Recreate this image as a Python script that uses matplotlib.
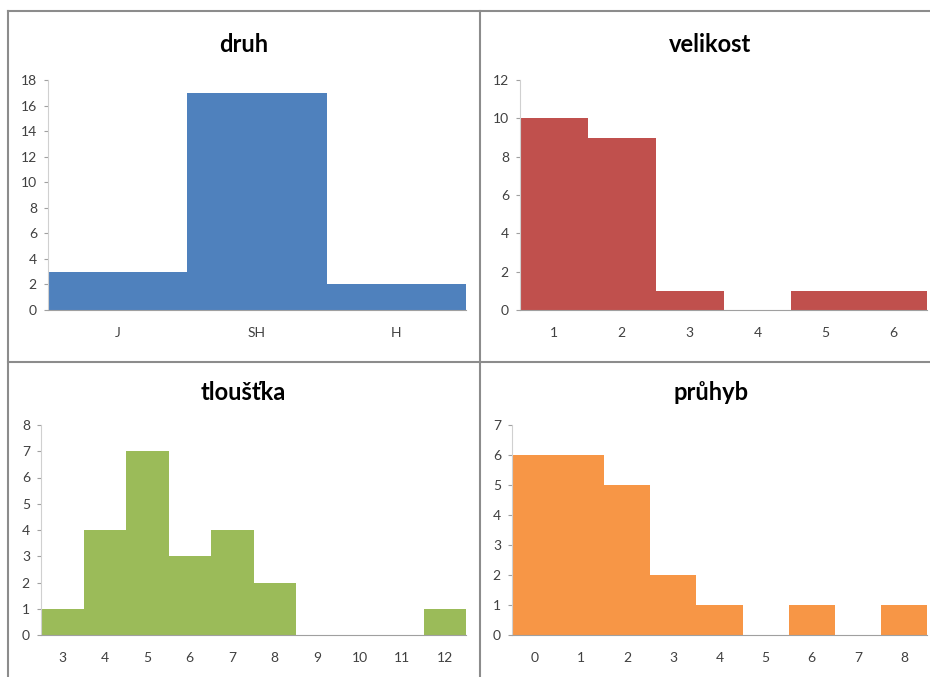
import matplotlib
matplotlib.use("Agg")
import matplotlib.pyplot as plt
from matplotlib.lines import Line2D

plt.rcParams['font.family'] = ['Lato', 'DejaVu Sans']

# data
druh_cats = ["J", "SH", "H"]
druh_vals = [3, 17, 2]

velikost_cats = [1, 2, 3, 4, 5, 6]
velikost_vals = [10, 9, 1, 0, 1, 1]

tloustka_cats = [3, 4, 5, 6, 7, 8, 9, 10, 11, 12]
tloustka_vals = [1, 4, 7, 3, 4, 2, 0, 0, 0, 1]

pruhyb_cats = [0, 1, 2, 3, 4, 5, 6, 7, 8]
pruhyb_vals = [6, 6, 5, 2, 1, 0, 1, 0, 1]

W, H = 930, 677
fig = plt.figure(figsize=(W / 100, H / 100), dpi=100)


def px_axes(x0, x1, y_top, y_bot):
    return fig.add_axes([x0 / W, 1 - y_bot / H, (x1 - x0) / W, (y_bot - y_top) / H])


def draw_hist(ax, cats, vals, color, ymax, ystep, title, title_xy):
    pos = list(range(len(cats)))
    ax.bar(pos, vals, width=1.0, color=color, linewidth=0)
    ax.set_xlim(-0.5, len(cats) - 0.5)
    ax.set_ylim(0, ymax)
    ax.set_yticks(range(0, ymax + 1, ystep))
    ax.set_xticks(pos)
    ax.set_xticklabels([str(c) for c in cats])
    for s in ("top", "right"):
        ax.spines[s].set_visible(False)
    ax.spines["left"].set_color("#d0d0d0")
    ax.spines["bottom"].set_color("#a0a0a0")
    ax.tick_params(axis="y", length=3, color="#a0a0a0", labelsize=10,
                   labelcolor="#404040", pad=5)
    ax.tick_params(axis="x", length=0, labelsize=10, labelcolor="#404040", pad=12)
    fig.text(title_xy[0] / W, 1 - title_xy[1] / H, title, ha="center", va="center",
             fontsize=17, fontweight="bold", color="black")


ax1 = px_axes(48, 466, 80, 310)
draw_hist(ax1, druh_cats, druh_vals, "#4F81BD", 18, 2, "druh", (244, 44))

ax2 = px_axes(520, 927, 80, 310)
draw_hist(ax2, velikost_cats, velikost_vals, "#C0504D", 12, 2, "velikost", (710, 44))

ax3 = px_axes(41, 466, 425, 635)
draw_hist(ax3, tloustka_cats, tloustka_vals, "#9BBB59", 8, 1, "tloušťka", (243, 392))

ax4 = px_axes(512, 927, 425, 635)
draw_hist(ax4, pruhyb_cats, pruhyb_vals, "#F79646", 7, 1, "průhyb", (711, 392))

# panel borders
border = "#8c8c8c"
for (x0, y0, x1, y1) in [(8, 11, 930, 11), (8, 11, 8, 677), (480, 11, 480, 677),
                         (8, 362, 930, 362)]:
    fig.add_artist(Line2D([x0 / W, x1 / W], [1 - y0 / H, 1 - y1 / H],
                          transform=fig.transFigure, color=border, linewidth=1.5))

fig.savefig("out.png", dpi=100)
